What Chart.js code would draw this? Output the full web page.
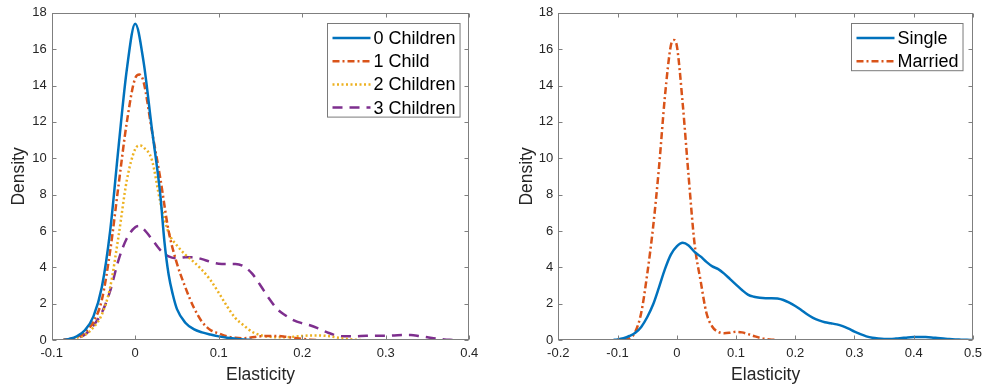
<!DOCTYPE html>
<html>
<head>
<meta charset="utf-8">
<script src="https://cdn.jsdelivr.net/npm/chart.js@4.4.0/dist/chart.umd.min.js"></script>
<style>
  html, body { margin: 0; padding: 0; background: #fff; }
  #wrap { position: relative; width: 988px; height: 388px; }
  canvas { position: absolute; top: 0; }
</style>
</head>
<body>
<div id="wrap">
  <canvas id="kidsChart" width="494" height="388" style="left:0"></canvas>
  <canvas id="maritalChart" width="494" height="388" style="left:494px"></canvas>
</div>
<script>
// Datos (densidad de la elasticidad)

// Panel izquierdo: numero de hijos
const xKids0 = [-0.086, -0.08, -0.07, -0.06, -0.05, -0.04, -0.03, -0.02, -0.01, 0, 0.01, 0.02, 0.03, 0.035, 0.04, 0.045, 0.05, 0.06, 0.07, 0.08, 0.09, 0.10, 0.11, 0.12, 0.13, 0.14];
const yKids0 = [0, 0.05, 0.2, 0.55, 1.3, 2.9, 6.0, 10.6, 14.9, 17.4, 15.3, 11.6, 8.0, 5.4, 3.6, 2.5, 1.7, 0.95, 0.6, 0.42, 0.3, 0.2, 0.12, 0.07, 0.03, 0];

const xKids1 = [-0.086, -0.08, -0.07, -0.06, -0.05, -0.04, -0.03, -0.02, -0.01, 0, 0.005, 0.01, 0.02, 0.03, 0.04, 0.05, 0.06, 0.07, 0.08, 0.09, 0.10, 0.11, 0.12, 0.13, 0.14, 0.15, 0.16, 0.17, 0.18, 0.19, 0.20, 0.21, 0.22];
const yKids1 = [0, 0.03, 0.15, 0.45, 1.0, 2.2, 4.9, 8.5, 12.0, 14.4, 14.6, 14.2, 11.5, 8.9, 6.0, 4.2, 2.9, 1.8, 1.0, 0.55, 0.36, 0.2, 0.12, 0.1, 0.15, 0.2, 0.22, 0.22, 0.18, 0.12, 0.06, 0.02, 0];

const xKids2 = [-0.086, -0.08, -0.07, -0.06, -0.05, -0.04, -0.03, -0.02, -0.01, 0, 0.006, 0.01, 0.02, 0.03, 0.04, 0.05, 0.06, 0.07, 0.08, 0.09, 0.10, 0.11, 0.12, 0.13, 0.14, 0.15, 0.16, 0.17, 0.18, 0.19, 0.20, 0.21, 0.22, 0.23, 0.24, 0.25, 0.26, 0.27];
const yKids2 = [0, 0.03, 0.12, 0.28, 0.7, 1.4, 2.9, 5.7, 8.8, 10.5, 10.7, 10.6, 9.9, 7.6, 5.9, 5.2, 4.7, 4.3, 3.85, 3.3, 2.6, 1.85, 1.2, 0.8, 0.45, 0.27, 0.18, 0.15, 0.15, 0.18, 0.22, 0.25, 0.25, 0.22, 0.15, 0.08, 0.03, 0];

const xKids3 = [-0.086, -0.07, -0.06, -0.05, -0.04, -0.03, -0.02, -0.01, 0, 0.005, 0.01, 0.02, 0.03, 0.04, 0.05, 0.06, 0.07, 0.08, 0.09, 0.10, 0.11, 0.12, 0.13, 0.14, 0.15, 0.16, 0.17, 0.18, 0.19, 0.20, 0.21, 0.22, 0.23, 0.24, 0.25, 0.26, 0.27, 0.28, 0.29, 0.30, 0.31, 0.32, 0.33, 0.34, 0.35, 0.36, 0.37, 0.38];
const yKids3 = [0, 0.12, 0.3, 0.8, 1.5, 2.7, 4.4, 5.6, 6.2, 6.27, 6.1, 5.55, 4.95, 4.6, 4.5, 4.55, 4.55, 4.45, 4.3, 4.2, 4.18, 4.18, 4.05, 3.65, 3.0, 2.3, 1.7, 1.35, 1.08, 0.92, 0.8, 0.62, 0.42, 0.26, 0.2, 0.2, 0.22, 0.23, 0.24, 0.24, 0.25, 0.27, 0.27, 0.22, 0.15, 0.08, 0.03, 0];

// Panel derecho: estado civil
const xSingle = [-0.107, -0.10, -0.09, -0.08, -0.07, -0.06, -0.05, -0.04, -0.03, -0.02, -0.01, 0, 0.01, 0.02, 0.03, 0.04, 0.05, 0.06, 0.07, 0.08, 0.09, 0.10, 0.11, 0.12, 0.13, 0.14, 0.15, 0.16, 0.17, 0.18, 0.19, 0.20, 0.21, 0.22, 0.23, 0.24, 0.25, 0.26, 0.27, 0.28, 0.29, 0.30, 0.31, 0.32, 0.33, 0.34, 0.35, 0.36, 0.37, 0.38, 0.39, 0.40, 0.41, 0.42, 0.43, 0.44, 0.45, 0.46, 0.47, 0.48, 0.49, 0.50];
const ySingle = [0, 0.03, 0.1, 0.22, 0.4, 0.72, 1.25, 1.95, 2.9, 3.9, 4.7, 5.15, 5.35, 5.2, 4.85, 4.6, 4.3, 4.05, 3.9, 3.65, 3.35, 3.05, 2.75, 2.5, 2.38, 2.32, 2.3, 2.3, 2.28, 2.2, 2.05, 1.87, 1.65, 1.42, 1.22, 1.08, 0.98, 0.92, 0.86, 0.76, 0.62, 0.46, 0.32, 0.2, 0.12, 0.08, 0.06, 0.06, 0.08, 0.11, 0.14, 0.16, 0.17, 0.16, 0.14, 0.11, 0.08, 0.05, 0.03, 0.02, 0.01, 0];

const xMarried = [-0.09, -0.08, -0.07, -0.06, -0.05, -0.04, -0.03, -0.02, -0.01, -0.005, 0, 0.01, 0.02, 0.03, 0.04, 0.05, 0.06, 0.07, 0.08, 0.09, 0.10, 0.11, 0.12, 0.13, 0.14, 0.15, 0.16, 0.17];
const yMarried = [0, 0.1, 0.45, 1.5, 3.6, 6.2, 9.5, 13.4, 16.2, 16.5, 16.2, 13.0, 9.0, 5.3, 3.3, 1.5, 0.73, 0.45, 0.37, 0.4, 0.45, 0.42, 0.33, 0.22, 0.12, 0.06, 0.02, 0];

// Etiquetas y ejes
const kidsLabels = ['0 Children', '1 Child', '2 Children', '3 Children'];
const maritalLabels = ['Single', 'Married'];
const kidsRange = [-0.1, 0.4];
const maritalRange = [-0.2, 0.5];
const densityRange = [0, 18];
const xTitle = 'Elasticity';
const yTitle = 'Density';

// Colores por defecto de MATLAB
const BLUE = '#0072BD';
const ORANGE = '#D95319';
const YELLOW = '#EDB120';
const PURPLE = '#7E2F8E';

const FONT = "'Liberation Sans', Arial, Helvetica, sans-serif";
const DASH_DOT = [7, 3, 2, 3];

/**
 * Construye un dataset de linea a partir de dos arrays.
 */
function series(label, xs, ys, color, dash) {
    return {
        label: label,
        data: xs.map((x, i) => ({ x: x, y: ys[i] })),
        borderColor: color,
        backgroundColor: color,
        borderDash: dash,
        borderWidth: 2.5,
        pointRadius: 0,
        fill: false,
        cubicInterpolationMode: 'monotone'
    };
}

// Caja del eje con marcas hacia dentro en los cuatro lados (estilo MATLAB)
const framePlugin = {
    id: 'frame',
    afterDraw(chart) {
        const { ctx, chartArea: a, scales } = chart;
        const L = Math.round(a.left) + 0.5, R = Math.round(a.right) - 0.5;
        const T = Math.round(a.top) + 0.5, B = Math.round(a.bottom) - 0.5;
        const len = 4;
        ctx.save();
        ctx.strokeStyle = '#7f7f7f';
        ctx.lineWidth = 1;
        ctx.setLineDash([]);
        ctx.strokeRect(L, T, R - L, B - T);
        ctx.beginPath();
        scales.x.ticks.forEach(t => {
            const px = Math.round(scales.x.getPixelForValue(t.value)) + 0.5;
            ctx.moveTo(px, B); ctx.lineTo(px, B - len);
            ctx.moveTo(px, T); ctx.lineTo(px, T + len);
        });
        scales.y.ticks.forEach(t => {
            const py = Math.round(scales.y.getPixelForValue(t.value)) + 0.5;
            ctx.moveTo(L, py); ctx.lineTo(L + len, py);
            ctx.moveTo(R, py); ctx.lineTo(R - len, py);
        });
        ctx.stroke();
        ctx.restore();
    }
};

// Leyenda con borde, arriba a la derecha dentro del area de trazado
const boxLegendPlugin = {
    id: 'boxLegend',
    afterDraw(chart) {
        const { ctx, chartArea: a } = chart;
        const sets = chart.data.datasets;
        ctx.save();
        ctx.font = '18px ' + FONT;
        const textW = Math.max(...sets.map(d => ctx.measureText(d.label).width));
        const lineLen = 38, row = 23.2;
        const w = 5 + lineLen + 3 + textW + 4.5;
        const h = 14.5 + row * (sets.length - 1) + 9.5;
        const x0 = Math.round(a.right - 10 - w) + 0.5;
        const y0 = Math.round(a.top + 10) + 0.5;
        ctx.fillStyle = '#fff';
        ctx.fillRect(x0, y0, w, h);
        ctx.strokeStyle = '#7a7a7a';
        ctx.lineWidth = 1;
        ctx.strokeRect(x0, y0, w, h);
        sets.forEach((d, i) => {
            const cy = y0 + 14.5 + row * i;
            ctx.strokeStyle = d.borderColor;
            ctx.lineWidth = d.borderWidth;
            ctx.setLineDash(d.borderDash || []);
            ctx.beginPath();
            ctx.moveTo(x0 + 5, cy);
            ctx.lineTo(x0 + 5 + lineLen, cy);
            ctx.stroke();
            ctx.setLineDash([]);
            ctx.fillStyle = '#000';
            ctx.textBaseline = 'middle';
            ctx.textAlign = 'left';
            ctx.fillText(d.label, x0 + 5 + lineLen + 3, cy + 1);
        });
        ctx.restore();
    }
};

/**
 * Crea uno de los dos paneles.
 */
function makePanel(canvasId, datasets, xRange, padLeft, padRight, yTitlePad) {
    const ctx = document.getElementById(canvasId).getContext('2d');
    return new Chart(ctx, {
        type: 'line',
        data: { datasets: datasets },
        options: {
            responsive: false,
            animation: false,
            devicePixelRatio: 1,
            layout: { padding: { left: padLeft, right: padRight, top: 12.7, bottom: 0 } },
            plugins: {
                legend: { display: false },
                tooltip: { enabled: false }
            },
            scales: {
                x: {
                    type: 'linear',
                    min: xRange[0],
                    max: xRange[1],
                    grid: { display: false, drawTicks: false },
                    border: { display: false },
                    ticks: {
                        stepSize: 0.1,
                        padding: 6,
                        color: '#262626',
                        font: { family: FONT, size: 13 },
                        maxRotation: 0,
                        callback: v => String(Math.round(v * 10) / 10)
                    },
                    title: {
                        display: true,
                        text: xTitle,
                        color: '#262626',
                        font: { family: FONT, size: 17.5 },
                        padding: { top: 0, bottom: 2 }
                    },
                    afterFit: scale => { scale.height = 48; }
                },
                y: {
                    min: densityRange[0],
                    max: densityRange[1],
                    grid: { display: false, drawTicks: false },
                    border: { display: false },
                    ticks: {
                        stepSize: 2,
                        padding: 5,
                        color: '#262626',
                        font: { family: FONT, size: 13 }
                    },
                    title: {
                        display: true,
                        text: yTitle,
                        color: '#262626',
                        font: { family: FONT, size: 17.5 },
                        padding: { top: yTitlePad, bottom: 0 }
                    },
                    afterFit: scale => { scale.width = 51.7; }
                }
            }
        },
        plugins: [framePlugin, boxLegendPlugin]
    });
}

makePanel('kidsChart', [
    series(kidsLabels[0], xKids0, yKids0, BLUE, []),
    series(kidsLabels[1], xKids1, yKids1, ORANGE, DASH_DOT),
    series(kidsLabels[2], xKids2, yKids2, YELLOW, [2, 2.5]),
    series(kidsLabels[3], xKids3, yKids3, PURPLE, [10, 7])
], kidsRange, 0, 24.7, 8.5);

makePanel('maritalChart', [
    series(maritalLabels[0], xSingle, ySingle, BLUE, []),
    series(maritalLabels[1], xMarried, yMarried, ORANGE, DASH_DOT)
], maritalRange, 12.6, 12.3, 9.7);
</script>
</body>
</html>
